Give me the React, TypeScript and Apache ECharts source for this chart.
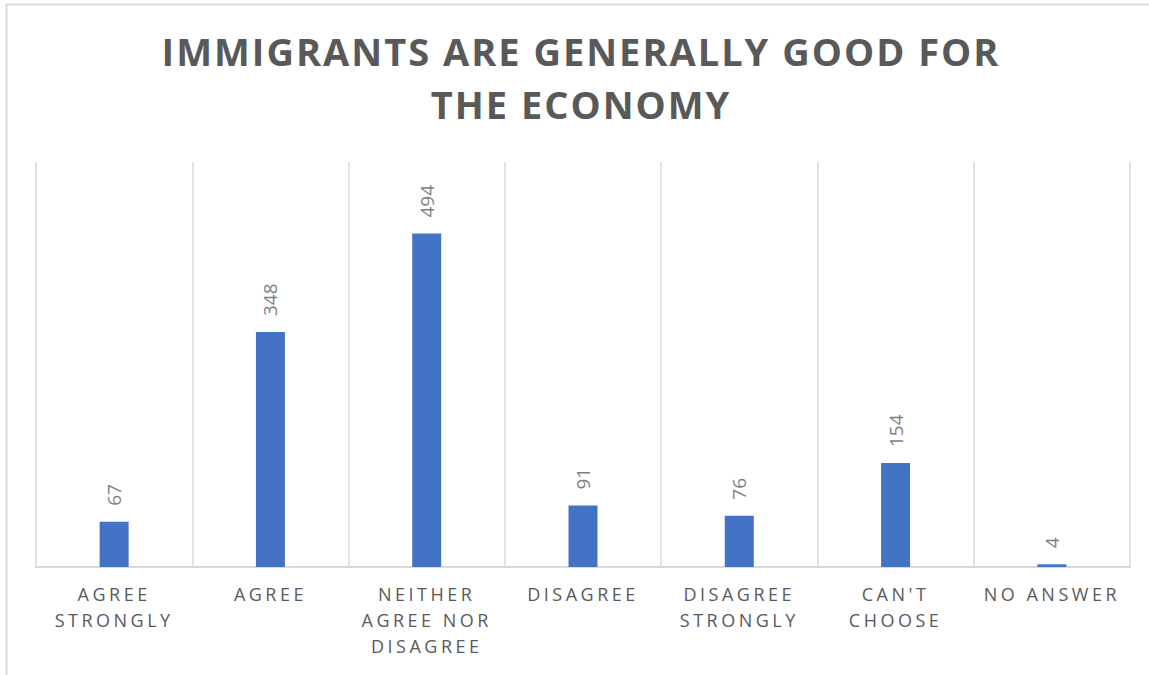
import React, { useEffect, useRef } from "react";
import * as echarts from "echarts";

const titleText = "IMMIGRANTS ARE GENERALLY GOOD FOR\nTHE ECONOMY";
const categories = [
  "AGREE\nSTRONGLY",
  "AGREE",
  "NEITHER\nAGREE NOR\nDISAGREE",
  "DISAGREE",
  "DISAGREE\nSTRONGLY",
  "CAN'T\nCHOOSE",
  "NO ANSWER",
];
const counts = [67, 348, 494, 91, 76, 154, 4];
const yMax = 600;

export default function App() {
  const ref = useRef<HTMLDivElement>(null);
  useEffect(() => {
    document.body.style.margin = "0";
    const chart = echarts.init(ref.current!, undefined, { renderer: "svg" });
    chart.setOption({
      animation: false,
      backgroundColor: "#ffffff",
      title: {
        text: titleText,
        left: 576,
        textAlign: "center",
        top: 19,
        textStyle: {
          fontFamily: "Open Sans",
          fontWeight: "bold",
          fontSize: 38,
          color: "#595959",
          lineHeight: 53,
        },
      },
      graphic: [
        {
          type: "rect",
          shape: { x: 6.5, y: 4.5, width: 1200, height: 800 },
          style: { fill: "none", stroke: "#d9d9d9", lineWidth: 2 },
          silent: true,
        },
      ],
      grid: { left: 36, right: 19, top: 162, bottom: 108 },
      xAxis: {
        type: "category",
        data: categories,
        boundaryGap: true,
        axisLine: { show: true, lineStyle: { color: "#d9d9d9", width: 2 } },
        axisTick: { show: false },
        splitLine: { show: true, lineStyle: { color: "#d9d9d9", width: 1.5 } },
        axisLabel: {
          interval: 0,
          margin: 14,
          fontFamily: "Open Sans",
          fontSize: 18,
          lineHeight: 26,
          color: "#595959",
        },
      },
      yAxis: {
        type: "value",
        min: 0,
        max: yMax,
        show: false,
        splitLine: { show: false },
      },
      series: [
        {
          type: "bar",
          data: counts,
          barWidth: 29,
          itemStyle: { color: "#4472C4" },
          label: {
            show: true,
            position: "top",
            rotate: 90,
            align: "left",
            verticalAlign: "middle",
            distance: 16,
            fontFamily: "Open Sans",
            fontSize: 19,
            color: "#7f7f7f",
          },
        },
      ],
    });
    return () => chart.dispose();
  }, []);
  return (
    <>
      <style>{`
        #chartbox text[style*="38px"] { letter-spacing: 2px; }
        #chartbox text[style*="18px"] { letter-spacing: 3.5px; }
      `}</style>
      <div id="chartbox" ref={ref} style={{ width: 1149, height: 675 }} />
    </>
  );
}
